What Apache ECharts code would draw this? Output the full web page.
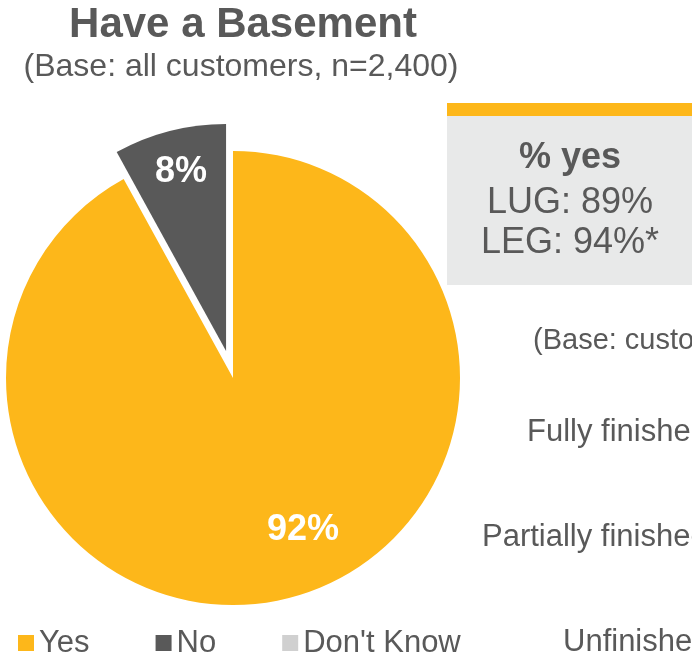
<!DOCTYPE html>
<html>
<head>
<meta charset="utf-8">
<title>Have a Basement</title>
<script src="https://cdn.jsdelivr.net/npm/echarts@6/dist/echarts.min.js"></script>
<style>
  html, body { margin: 0; padding: 0; background: #ffffff; }
  #chart { width: 692px; height: 657px; }
</style>
</head>
<body>
<div id="chart"></div>
<script>
// Survey answers and shares (percent)
const categories = ['Yes', 'No', "Don't Know"];
const shares = [92, 8, 0];
const sliceColors = ['#FDB71A', '#595959', '#D0D0D0'];

// Comparison panel
const panelTitle = '% yes';
const panelLines = ['LUG: 89%', 'LEG: 94%*'];

// Basement finish breakdown (column continues past the right edge)
const finishBase = '(Base: customers with a basement)';
const finishTypes = ['Fully finished', 'Partially finished', 'Unfinished'];

const FONT = '"Liberation Sans", Arial, Helvetica, sans-serif';
const TEXT = '#595959';

const chart = echarts.init(document.getElementById('chart'), null, { renderer: 'canvas' });

// Label nudges so the percentages sit where the slice reads best
const labelOffsets = [[41, 39], [-16, -66], [0, 0]];

const pieData = categories.map((name, i) => ({
  name: name,
  value: shares[i],
  selected: name === 'No',
  itemStyle: { color: sliceColors[i] },
  label: { show: shares[i] > 0, offset: labelOffsets[i] },
  // the pulled-out slice renders in its select state, so it needs the same nudge
  select: { label: { show: shares[i] > 0, offset: labelOffsets[i] } }
}));

const graphics = [
  { type: 'text', x: 243, y: 25, style: {
      text: 'Have a Basement', fill: TEXT, font: 'bold 42px ' + FONT,
      textAlign: 'center', textVerticalAlign: 'middle' } },
  { type: 'text', x: 241, y: 67, style: {
      text: '(Base: all customers, n=2,400)', fill: TEXT, font: '32px ' + FONT,
      textAlign: 'center', textVerticalAlign: 'middle' } },
  // comparison panel
  { type: 'rect', shape: { x: 447, y: 103, width: 260, height: 13 }, style: { fill: '#FDB71A' } },
  { type: 'rect', shape: { x: 447, y: 116, width: 260, height: 169 }, style: { fill: '#E8E9E9' } },
  { type: 'text', x: 570, y: 158, style: {
      text: panelTitle, fill: TEXT, font: 'bold 36px ' + FONT,
      textAlign: 'center', textVerticalAlign: 'middle' } }
];
panelLines.forEach((t, i) => {
  graphics.push({ type: 'text', x: 570, y: 203 + i * 40, style: {
    text: t, fill: TEXT, font: '36px ' + FONT, textAlign: 'center', textVerticalAlign: 'middle' } });
});
graphics.push({ type: 'text', x: 533, y: 341, style: {
  text: finishBase, fill: TEXT, font: '29px ' + FONT, textAlign: 'left', textVerticalAlign: 'middle' } });
const finishX = [527, 482, 563];
const finishY = [432, 537, 642];
finishTypes.forEach((t, i) => {
  graphics.push({ type: 'text', x: finishX[i], y: finishY[i], style: {
    text: t, fill: TEXT, font: '31px ' + FONT, textAlign: 'left', textVerticalAlign: 'middle' } });
});

chart.setOption({
  animation: false,
  backgroundColor: '#ffffff',
  color: sliceColors,
  legend: {
    data: categories,
    left: 13,
    top: 622,
    icon: 'rect',
    itemWidth: 16,
    itemHeight: 16,
    itemGap: 66,
    selectedMode: false,
    textStyle: { color: TEXT, fontFamily: FONT, fontSize: 31, lineHeight: 32, padding: [0, 0, 0, 0] }
  },
  series: [{
    type: 'pie',
    center: [233, 378],
    radius: [0, 227],
    startAngle: 90,
    clockwise: true,
    selectedMode: 'single',
    selectedOffset: 28,
    silent: true,
    label: {
      show: true,
      position: 'inside',
      color: '#ffffff',
      fontFamily: FONT,
      fontWeight: 'bold',
      fontSize: 36,
      formatter: p => p.value + '%'
    },
    labelLine: { show: false },
    emphasis: { disabled: true },
    data: pieData
  }],
  graphic: graphics
});
</script>
</body>
</html>
